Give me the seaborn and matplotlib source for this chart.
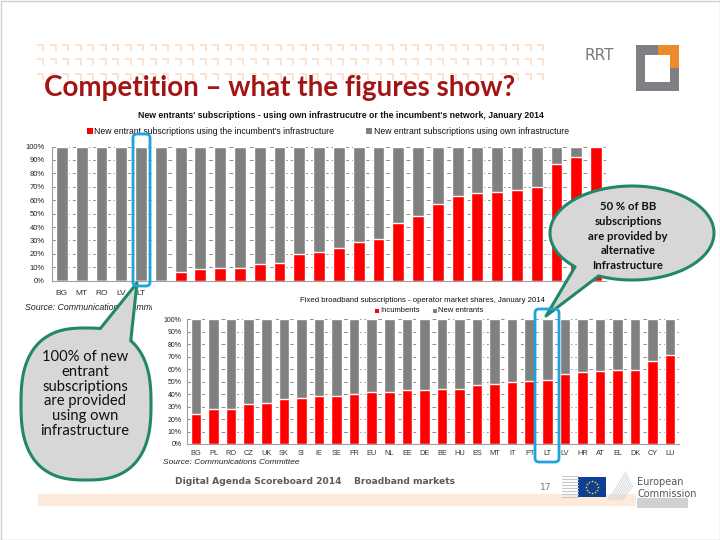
import matplotlib
matplotlib.use("Agg")
import matplotlib.pyplot as plt
import seaborn as sns
import numpy as np
import pandas as pd
from matplotlib.patches import Rectangle, FancyBboxPatch, Polygon
from matplotlib.path import Path

# ---------------- data ----------------
top_labels = ["BG", "MT", "RO", "LV", "LT"] + [""] * 23
top_incumbent_infra = [0, 0, 0, 0, 0, 0, 6.7, 8.5, 9.2, 9.7, 12.4, 13.0, 19.7, 21.6,
                       24.6, 28.6, 30.9, 43.3, 48.5, 57.2, 63.0, 65.7, 65.9, 67.7,
                       69.7, 86.9, 92.1, 100]
bottom_labels = ["BG", "PL", "RO", "CZ", "UK", "SK", "SI", "IE", "SE", "FR", "EU", "NL",
                 "EE", "DE", "BE", "HU", "ES", "MT", "IT", "PT", "LT", "LV", "HR", "AT",
                 "EL", "DK", "CY", "LU"]
bottom_incumbents = [23.8, 27.8, 28.1, 31.8, 32.6, 35.8, 37.1, 38.2, 38.5, 40.1, 41.9,
                     41.9, 43.3, 43.5, 43.8, 43.8, 47.3, 48.4, 49.7, 50.3, 51.3, 55.9,
                     57.5, 58.3, 59.1, 59.6, 66.3, 71.1]
pct_ticks = list(range(0, 101, 10))

sns.set_theme(style="white")
plt.rcParams['font.family'] = ['Liberation Sans', 'DejaVu Sans']

W, H = 720, 540
RED = "#ff0000"
GREY = "#808080"
GREEN = "#21876a"
BLUE = "#1ea3dc"

fig = plt.figure(figsize=(7.2, 5.4), dpi=100)
fig.patch.set_facecolor("white")


def rect(x0, x1, ytop, ybot):
    return [x0 / W, 1 - ybot / H, (x1 - x0) / W, (ybot - ytop) / H]


def stacked(ax, labels, values, pad_x, size_x, size_y, pad_y):
    n = len(values)
    df = pd.DataFrame({"pos": list(range(n)), "total": [100] * n, "part": values})
    sns.barplot(data=df, x="pos", y="total", color=GREY, saturation=1, width=0.6,
                ax=ax, zorder=2)
    sns.barplot(data=df, x="pos", y="part", color=RED, saturation=1, width=0.6,
                ax=ax, zorder=3)
    ax.set_xlim(-0.5, n - 0.5)
    ax.set_ylim(0, 100)
    ax.set_yticks(pct_ticks)
    ax.set_yticklabels([f"{t}%" for t in pct_ticks], fontsize=size_y, color="#222222")
    ax.set_xticks(range(n))
    ax.set_xticklabels(labels, fontsize=size_x, color="#333333")
    ax.set_xlabel("")
    ax.set_ylabel("")
    ax.yaxis.grid(True, linestyle=(0, (4, 3)), color="#8c8c8c", lw=0.7)
    ax.set_axisbelow(True)
    for s in ["top", "right"]:
        ax.spines[s].set_visible(False)
    for s in ["left", "bottom"]:
        ax.spines[s].set_color("#a0a0a0")
        ax.spines[s].set_linewidth(0.8)
    ax.tick_params(axis="x", length=0, pad=pad_x)
    ax.tick_params(axis="y", length=0, pad=pad_y)


# ---------------- top chart ----------------
ax1 = fig.add_axes(rect(52, 606, 146.5, 280.7), zorder=1)
stacked(ax1, top_labels, top_incumbent_infra, 6.5, 6, 5.5, 5)
fig.text(25 / W, 1 - 308 / H, "Source: Communications Committee", fontsize=6.3,
         style="italic", va="center", ha="left", zorder=1.5, color="#222222")

# white picture of the second chart
fig.add_artist(Rectangle((152 / W, 1 - 494 / H), (702 - 152) / W, (494 - 287) / H,
                         transform=fig.transFigure, facecolor="white",
                         edgecolor="none", zorder=2))

# ---------------- bottom chart ----------------
ax2 = fig.add_axes(rect(187.3, 679, 319.3, 444), zorder=3)
stacked(ax2, bottom_labels, bottom_incumbents, 4.5, 5.3, 5, 4)

# ---------------- overlay ----------------
ov = fig.add_axes([0, 0, 1, 1], zorder=4)
ov.set_xlim(0, W)
ov.set_ylim(H, 0)
ov.axis("off")
ov.patch.set_alpha(0)

# slide border
ov.add_patch(Rectangle((0.5, 0.5), W - 1, H - 1, fill=False, edgecolor="#cfcfcf", lw=1))

# decorative pattern
hook = Path([(-1, 1), (1, 1), (1, -1)], [Path.MOVETO, Path.LINETO, Path.LINETO])
for yy in [48, 62, 77]:
    xs = np.arange(40, 541, 12.5)
    ov.plot(xs, [yy] * len(xs), linestyle="none", marker=hook, markersize=5,
            markeredgecolor="#fbe1cb", markerfacecolor="none", markeredgewidth=1.3)

# slide title
ov.text(44, 88, "Competition \u2013 what the figures show?", fontsize=20,
        fontweight="bold", family=["Lato", "DejaVu Sans"], color="#a31515",
        ha="left", va="center")

# RRT logo
ov.text(585, 56, "RRT", fontsize=11, color="#7a7a7a", ha="left", va="center",
        family=["DejaVu Sans"])
ov.add_patch(Rectangle((636, 45), 43, 46, facecolor="#7d7f82", edgecolor="none"))
ov.add_patch(Rectangle((658, 45), 21, 23, facecolor="#ec8a2c", edgecolor="none"))
ov.add_patch(Rectangle((645, 55), 25, 27, facecolor="white", edgecolor="none"))

# top chart title and legend
ov.text(341, 116, "New entrants' subscriptions - using own infrastrucutre or the "
        "incumbent's network, January 2014", fontsize=6.3, fontweight="bold",
        ha="center", va="center", color="#111111")
ov.add_patch(Rectangle((87, 128), 6, 6, facecolor=RED, edgecolor="none"))
ov.text(94.5, 131, "New entrant subscriptions using the incumbent's infrastructure",
        fontsize=6.2, ha="left", va="center", color="#111111")
ov.add_patch(Rectangle((366, 128), 6, 6, facecolor=GREY, edgecolor="none"))
ov.text(373.5, 131, "New entrant subscriptions using own infrastructure",
        fontsize=6.2, ha="left", va="center", color="#111111")

# bottom chart title and legend
ov.text(422, 301, "Fixed broadband subscriptions - operator market shares, January 2014",
        fontsize=5.6, ha="center", va="center", color="#111111")
ov.add_patch(Rectangle((375, 309), 4, 4, facecolor=RED, edgecolor="none"))
ov.text(380.5, 311, "Incumbents", fontsize=5.5, ha="left", va="center", color="#111111")
ov.add_patch(Rectangle((433, 309), 4, 4, facecolor=GREY, edgecolor="none"))
ov.text(438.5, 311, "New entrants", fontsize=5.5, ha="left", va="center", color="#111111")
ov.text(163, 463, "Source: Communications Committee", fontsize=6, style="italic",
        ha="left", va="center", color="#222222")

# footer
ov.text(175, 482, "Digital Agenda Scoreboard 2014", fontsize=6.6, fontweight="bold",
        family=["DejaVu Sans"], color="#5a5a5a", ha="left", va="center")
ov.text(354, 482, "Broadband markets", fontsize=6.6, fontweight="bold",
        family=["DejaVu Sans"], color="#5a5a5a", ha="left", va="center")
ov.text(546, 488, "17", fontsize=6.5, color="#777777", ha="center", va="center",
        family=["DejaVu Sans"])
ov.add_patch(Rectangle((38, 494), 598, 12, facecolor="#fdeadb", edgecolor="none"))
for k in range(8):
    ov.plot([562, 578], [476 + 3 * k, 476 + 3 * k], color="#c8c8c8", lw=0.8)
ov.add_patch(Rectangle((578, 477), 28, 20, facecolor="#0e3e96", edgecolor="none"))
for a in np.linspace(0, 2 * np.pi, 12, endpoint=False):
    ov.plot(592 + 6 * np.cos(a), 487 + 6 * np.sin(a), marker="*", markersize=2,
            color="#ffdd00", markeredgewidth=0)
for k in range(8):
    ov.plot([608 + k * 2, 626 + k], [500, 472 + k * 2], color="#d4d4d4", lw=0.6)
ov.text(637, 482, "European", fontsize=7, color="#555555", ha="left", va="center",
        family=["DejaVu Sans"])
ov.text(637, 494, "Commission", fontsize=7, color="#555555", ha="left", va="center",
        family=["DejaVu Sans"])
ov.add_patch(Rectangle((637, 498), 51, 10, facecolor="#d0d0d0", edgecolor="none"))


def bubble(cx, cy, rx, ry, n, t_from, t_to, tip):
    ts = np.radians(np.linspace(t_to, t_from + 360, 240))
    c, s = np.cos(ts), np.sin(ts)
    xs = cx + rx * np.sign(c) * np.abs(c) ** (2 / n)
    ys = cy + ry * np.sign(s) * np.abs(s) ** (2 / n)
    pts = list(zip(xs, ys)) + [tip]
    return Polygon(pts, closed=True, facecolor="#d7d7d7", edgecolor=GREEN, lw=2.2,
                   joinstyle="round", zorder=5)


# left callout
ov.add_patch(bubble(86, 404, 65, 76, 2.6, -82, -52, (137, 283)))
ov.text(85, 394, "100% of new\nentrant\nsubscriptions\nare provided\nusing own\ninfrastructure",
        fontsize=10.6, family=["Lato", "DejaVu Sans"], ha="center", va="center",
        linespacing=1.08, color="#111111", zorder=6)

# right callout
ov.add_patch(bubble(632, 233, 82, 47, 2.0, 114, 134, (546, 316)))
ov.text(628, 236, "50 % of BB\nsubscriptions\nare provided by\nalternative\nInfrastructure",
        fontsize=8.2, fontweight="bold", family=["Lato", "DejaVu Sans"], ha="center",
        va="center", linespacing=1.4, color="#111111", zorder=6)

# highlight boxes
ov.add_patch(FancyBboxPatch((133, 134), 17, 152, boxstyle="round,pad=0,rounding_size=4",
                            fill=False, edgecolor=BLUE, lw=2, zorder=7))
ov.add_patch(FancyBboxPatch((535, 309), 24, 153, boxstyle="round,pad=0,rounding_size=4",
                            fill=False, edgecolor=BLUE, lw=2, zorder=7))

fig.savefig("out.png", dpi=100)
